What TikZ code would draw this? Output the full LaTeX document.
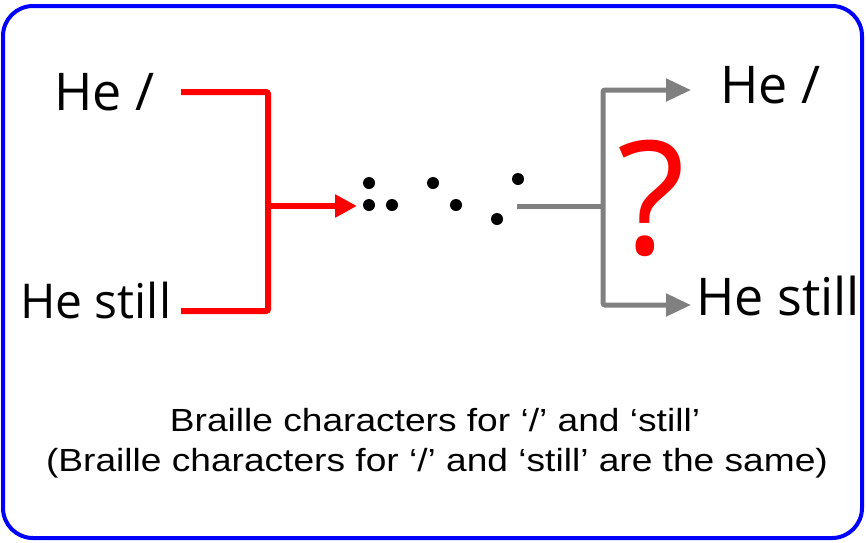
\documentclass[tikz,border=0pt]{standalone}
\usepackage{fontspec}
\setmainfont{Open Sans}
\newfontfamily\capfont[FakeStretch=1.16]{Liberation Sans}
\usetikzlibrary{arrows.meta}
\definecolor{mygray}{RGB}{128,128,128}
\tikzset{
  word/.style={anchor=base west, inner sep=0pt, font=\fontsize{52}{60}\selectfont},
  redline/.style={draw=red, line width=6pt, rounded corners=2pt},
  grayline/.style={draw=mygray, line width=5pt, rounded corners=2pt},
  dot/.style={circle, fill=black, inner sep=0pt, minimum size=12pt},
  caption/.style={anchor=base, inner sep=0pt, font=\capfont\fontsize{32}{40}\selectfont}
}
\begin{document}
\begin{tikzpicture}[x=1pt,y=-1pt]
\useasboundingbox (0,0) rectangle (866,542);
\draw[blue, line width=4pt, rounded corners=30pt] (3,6) rectangle (862,538);
% left words
\node[word] (he1) at (54,110) {He /};
\node[word, font=\fontsize{48}{56}\selectfont] (he2) at (20,318) {He still};
% right words
\node[word] (he3) at (720,103) {He /};
\node[word] (he4) at (696,315) {He still};
% braille dots
\node[dot] (d1) at (369,183) {};
\node[dot] (d2) at (369,205) {};
\node[dot] (d3) at (392,205) {};
\node[dot] (d4) at (433,183) {};
\node[dot] (d5) at (456,205) {};
\node[dot] (d6) at (518,179) {};
\node[dot] (d7) at (497,219) {};
% red connectors
\coordinate (r1) at (181,92);
\coordinate (r2) at (268,92);
\coordinate (r3) at (268,311);
\coordinate (r4) at (181,311);
\coordinate (rm) at (268,206);
\coordinate (rt) at (357,206);
\draw[redline] (r1) -- (r2) -- (r3) -- (r4);
\draw[redline, -{Triangle[length=22pt,width=22pt]}] (rm) -- (rt);
% gray connectors
\coordinate (g0) at (517,206);
\coordinate (gm) at (603,206);
\coordinate (g1) at (603,90);
\coordinate (g2) at (603,305);
\coordinate (gt1) at (691,90);
\coordinate (gt2) at (691,305);
\draw[grayline] (g0) -- (gm);
\draw[grayline, -{Triangle[length=25pt,width=22pt]}] (gm) -- (g1) -- (gt1);
\draw[grayline, -{Triangle[length=25pt,width=22pt]}] (gm) -- (g2) -- (gt2);
% question mark
\node[inner sep=0pt, text=red, font=\fontsize{158}{162}\selectfont] (q) at (651,198) {?};
% caption
\node[caption] (cap1) at (435,431) {Braille characters for ‘/’ and ‘still’};
\node[caption] (cap2) at (437,471) {(Braille characters for ‘/’ and ‘still’ are the same)};
\end{tikzpicture}
\end{document}
